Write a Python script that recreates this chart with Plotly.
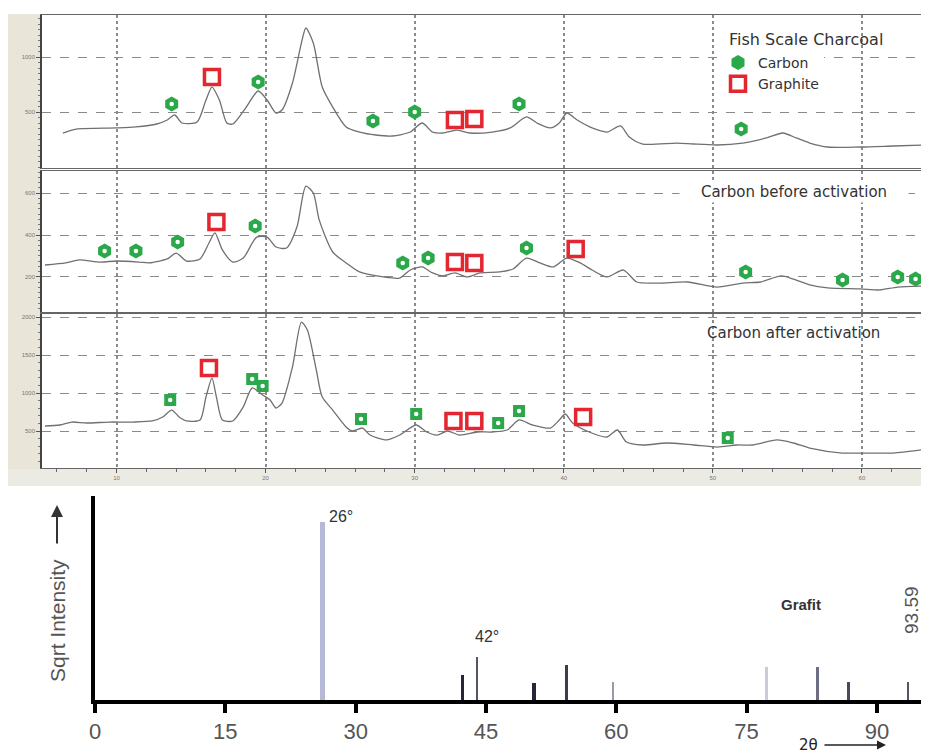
import plotly.graph_objects as go

# ---------------- data: XRD patterns (2θ in degrees, intensity in counts) ----------------
fish_x = [6.4, 7.3, 10.0, 11.3, 12.7, 13.4, 13.9, 14.4, 15.4, 16.0, 16.4, 16.9, 17.4, 17.8, 18.7,
          19.5, 20.1, 20.7, 21.1, 21.8, 22.4, 22.7, 23.2, 23.8, 24.5, 25.4, 26.3, 27.4, 28.5, 29.7,
          30.5, 31.2, 31.9, 32.8, 33.7, 35.2, 36.4, 37.5, 38.2, 39.1, 39.7, 40.2, 40.9, 41.9, 42.9,
          43.8, 44.4, 45.3, 47.6, 48.7, 50.3, 52.0, 53.6, 54.7, 55.6, 56.5, 57.7, 59.9, 62.1, 64.2]
fish_y = [309, 345, 355, 364, 391, 427, 473, 400, 409, 609, 727, 609, 400, 391, 545,
          691, 609, 491, 518, 764, 1127, 1264, 1127, 727, 545, 364, 318, 291, 282, 318,
          400, 318, 309, 336, 309, 318, 355, 455, 400, 355, 400, 491, 427, 355, 318,
          373, 273, 209, 218, 209, 200, 218, 264, 309, 264, 218, 182, 182, 191, 200]

before_x = [5.2, 6.6, 7.5, 8.9, 10.0, 11.5, 12.2, 13.4, 14.0, 14.7, 15.6, 16.2, 16.6, 17.1, 17.8,
            18.5, 19.4, 20.1, 20.7, 21.4, 22.1, 22.7, 23.2, 23.6, 24.5, 25.4, 26.3, 27.9, 29.0, 29.7,
            30.5, 31.2, 31.9, 32.7, 33.5, 34.4, 35.7, 36.6, 37.5, 38.4, 39.3, 40.2, 41.1, 41.9, 42.9,
            44.0, 44.9, 46.4, 48.3, 50.3, 52.0, 53.2, 54.6, 55.4, 56.5, 57.7, 59.9, 61.2, 62.4, 64.4]
before_y = [257, 267, 281, 271, 276, 271, 267, 286, 314, 276, 286, 362, 410, 329, 271,
            290, 390, 390, 343, 338, 438, 633, 600, 471, 319, 267, 224, 200, 195, 233,
            248, 219, 205, 219, 200, 219, 224, 238, 290, 267, 248, 290, 267, 233, 200,
            233, 176, 171, 176, 152, 171, 176, 205, 190, 162, 148, 143, 138, 152, 157]

after_x = [5.2, 6.2, 7.0, 8.0, 9.5, 11.1, 12.4, 13.1, 13.7, 14.2, 14.7, 15.6, 16.0, 16.4, 16.7,
           17.1, 17.8, 18.5, 19.1, 19.8, 20.3, 20.7, 21.1, 21.8, 22.4, 22.8, 23.4, 23.8, 24.5, 25.4,
           25.8, 26.5, 27.0, 28.1, 29.0, 30.1, 30.8, 31.5, 32.2, 33.0, 34.2, 35.2, 36.2, 37.0, 37.9,
           39.1, 39.7, 40.1, 40.6, 41.7, 42.9, 43.6, 44.2, 45.3, 46.9, 48.7, 50.3, 51.6, 52.7, 54.3,
           55.4, 56.5, 58.7, 60.3, 62.1, 64.4]
after_y = [566, 579, 618, 605, 618, 618, 632, 684, 776, 684, 632, 645, 947, 1197, 947,
           645, 632, 816, 1066, 974, 908, 803, 868, 1342, 1934, 1829, 1303, 947, 776, 553,
           500, 539, 447, 382, 447, 579, 487, 447, 500, 447, 487, 487, 513, 645, 579,
           539, 645, 724, 605, 487, 421, 513, 355, 316, 342, 316, 289, 316, 316, 382,
           342, 276, 210, 210, 210, 263]

# phase identification markers
fish_carbon_x = [13.7, 19.5, 27.2, 30.0, 37.0, 51.9]
fish_carbon_y = [573, 773, 418, 500, 573, 345]
fish_graph_x = [16.4, 32.7, 34.0]
fish_graph_y = [818, 427, 436]

before_carbon_x = [9.2, 11.3, 14.1, 19.3, 29.2, 30.9, 37.5, 52.2, 58.7, 62.4, 63.6]
before_carbon_y = [324, 324, 367, 443, 267, 290, 338, 224, 186, 200, 190]
before_graph_x = [16.7, 32.7, 34.0, 40.8]
before_graph_y = [462, 271, 267, 333]

after_carbon_x = [13.6, 19.1, 19.8, 26.4, 30.1, 35.6, 37.0, 51.0]
after_carbon_y = [908, 1184, 1092, 658, 724, 605, 763, 408]
after_graph_x = [16.2, 32.6, 34.0, 41.3]
after_graph_y = [1329, 632, 632, 684]

# reference stick pattern (Grafit), sqrt intensity
ref_pos = [26.2, 42.3, 44.0, 50.5, 54.3, 59.6, 77.3, 83.2, 86.7, 93.6]
ref_int = [99.5, 14.0, 24.2, 9.6, 19.7, 10.1, 18.5, 18.5, 10.1, 10.1]
ref_colors = ['#b6b9d6', '#26263a', '#55556a', '#26263a', '#3c3c50', '#9a9aaa',
              '#c9cddb', '#6e6e82', '#4a4a5c', '#55556a']
ref_widths = [0.55, 0.4, 0.2, 0.45, 0.22, 0.25, 0.3, 0.22, 0.3, 0.22]

top_ticks = [10, 20, 30, 40, 50, 60]
bottom_ticks = [0, 15, 30, 45, 60, 75, 90]

# ---------------- figure ----------------
# the page body adds an 8 px margin, so the figure is 921x746 and layout positions
# (given in window pixels) are shifted by that offset
OFF = 8
W, H = 929 - OFF, 754 - OFF
def px(x):
    return (x - OFF) / W
def py(y):
    return 1 - (y - OFF) / H

GREEN = '#2aa84a'
RED = '#e3262f'
CURVE = '#707070'
TXT = 'DejaVu Sans'

fig = go.Figure()

panels = [
    ('x', 'y', fish_x, fish_y, fish_carbon_x, fish_carbon_y, fish_graph_x, fish_graph_y, 'hexagon', True),
    ('x2', 'y2', before_x, before_y, before_carbon_x, before_carbon_y, before_graph_x, before_graph_y, 'hexagon', False),
    ('x3', 'y3', after_x, after_y, after_carbon_x, after_carbon_y, after_graph_x, after_graph_y, 'square', False),
]
for xa, ya, cx, cy, gx, gy, cxs, cys, csym, leg in panels:
    fig.add_trace(go.Scatter(x=cx, y=cy, xaxis=xa, yaxis=ya, mode='lines',
                             line=dict(color=CURVE, width=1.3, shape='spline', smoothing=0.7),
                             showlegend=False, hoverinfo='skip'))
    fig.add_trace(go.Scatter(x=gx, y=gy, xaxis=xa, yaxis=ya, mode='markers', name='Carbon',
                             marker=dict(symbol=csym, size=15 if csym == 'hexagon' else 12,
                                         color=GREEN, line=dict(width=0)),
                             showlegend=leg))
    fig.add_trace(go.Scatter(x=gx, y=gy, xaxis=xa, yaxis=ya, mode='markers',
                             marker=dict(symbol='circle', size=4.5, color='white'),
                             showlegend=False, hoverinfo='skip'))
    fig.add_trace(go.Scatter(x=cxs, y=cys, xaxis=xa, yaxis=ya, mode='markers', name='Graphite',
                             marker=dict(symbol='square', size=15, color='white',
                                         line=dict(color=RED, width=3.5)),
                             showlegend=leg))

fig.add_trace(go.Bar(x=ref_pos, y=ref_int, xaxis='x4', yaxis='y4', width=ref_widths,
                     marker=dict(color=ref_colors, line=dict(width=0)),
                     showlegend=False))

top_dom_x = [px(42), 1.0]
common_x = dict(range=[5, 64.5], tickvals=top_ticks, showgrid=True, gridcolor='#8a8a8a',
                griddash='dot', gridwidth=1.5, showline=True, linecolor='#666', linewidth=1.2,
                mirror=True, zeroline=False, ticks='', fixedrange=True, automargin=False)
common_y = dict(showgrid=True, gridcolor='#8a8a8a', griddash='dash', gridwidth=1.2,
                showline=True, linecolor='#444', linewidth=1.5, mirror=True, zeroline=False,
                ticks='outside', ticklen=4, tickcolor='#555', automargin=False,
                tickfont=dict(size=6, color='#777', family='Liberation Sans'),
                minor=dict(ticks='outside', ticklen=2, tickcolor='#777', showgrid=False))


def note(text, x, y, size, color='#333', family=TXT, angle=0, xanchor='center', **kw):
    return dict(text=text, x=px(x), y=py(y), xref='paper', yref='paper', showarrow=False,
                xanchor=xanchor, yanchor='middle', textangle=angle,
                font=dict(size=size, color=color, family=family), **kw)


fig.update_layout(
    width=W, height=H, margin=dict(l=0, r=0, t=0, b=0, autoexpand=False),
    paper_bgcolor='white', plot_bgcolor='white', bargap=0,
    xaxis=dict(common_x, domain=top_dom_x, anchor='y', showticklabels=False),
    yaxis=dict(common_y, domain=[py(168), py(15)], anchor='x', range=[-9, 1382],
               tickvals=[500, 1000], ticktext=['500', '1000'], minor_dtick=50),
    xaxis2=dict(common_x, domain=top_dom_x, anchor='y2', showticklabels=False),
    yaxis2=dict(common_y, domain=[py(312), py(171)], anchor='x2', range=[33, 705],
                tickvals=[200, 400, 600], minor_dtick=25),
    xaxis3=dict(common_x, domain=top_dom_x, anchor='y3', showticklabels=True,
                ticks='outside', ticklen=4, tickcolor='#555',
                tickfont=dict(size=6, color='#777', family='Liberation Sans'),
                minor=dict(ticks='outside', ticklen=3, dtick=2, tickcolor='#666', showgrid=False)),
    yaxis3=dict(common_y, domain=[py(468), py(314)], anchor='x3', range=[13, 2040],
                tickvals=[500, 1000, 1500, 2000], minor_dtick=100),
    xaxis4=dict(domain=[px(95), 1.0], anchor='y4', range=[0, 96], tickvals=bottom_ticks,
                showgrid=False, zeroline=False, showline=True, linecolor='black', linewidth=3.5,
                ticks='outside', ticklen=9, tickwidth=4, tickcolor='black', automargin=False,
                tickfont=dict(size=22, color='#555', family='Liberation Sans'), fixedrange=True),
    yaxis4=dict(domain=[py(700), py(496)], anchor='x4', range=[0, 114], showgrid=False,
                zeroline=False, showline=True, linecolor='black', linewidth=3.5, automargin=False,
                showticklabels=False, ticks='', fixedrange=True),
    legend=dict(x=px(718), y=py(47), xanchor='left', yanchor='top', bgcolor='white',
                font=dict(size=14, color='#333', family=TXT), tracegroupgap=0,
                itemwidth=30),
    shapes=[
        dict(type='rect', xref='paper', yref='paper', x0=px(8), x1=px(41), y0=py(486), y1=py(14),
             fillcolor='#e9e6d9', line=dict(width=0), layer='below'),
        dict(type='rect', xref='paper', yref='paper', x0=px(8), x1=1.0, y0=py(486), y1=py(469),
             fillcolor='#ecebe3', line=dict(width=0), layer='below'),
    ],
    annotations=[
        note('Fish Scale Charcoal', 727, 39, 16, xanchor='left'),
        note('Carbon before activation', 794, 192, 15, bgcolor='white', width=226),
        note('Carbon after activation', 793, 333, 15),
        note('26°', 327, 516, 16, family='Liberation Sans', xanchor='left'),
        note('42°', 487, 636, 16, family='Liberation Sans'),
        note('<b>Grafit</b>', 801, 604, 15, family='Liberation Sans'),
        note('93.59', 911, 610, 19, color='#555', family='Liberation Sans', angle=-90),
        note('Sqrt Intensity', 57, 621, 21, color='#555', family='Liberation Sans', angle=-90),
        # arrow above the y title
        dict(text='', x=px(57), y=py(505), ax=0, ay=40, xref='paper', yref='paper',
             axref='pixel', ayref='pixel', showarrow=True, arrowhead=2, arrowsize=1.2,
             arrowwidth=2, arrowcolor='#333', standoff=0, startstandoff=0),
        note('2θ', 808, 745, 15, color='#222'),
        dict(text='', x=px(886), y=py(745), ax=-63, ay=0, xref='paper', yref='paper',
             axref='pixel', ayref='pixel', showarrow=True, arrowhead=2, arrowsize=1.2,
             arrowwidth=1.5, arrowcolor='#222', standoff=0, startstandoff=0),
    ],
)

fig.write_html('out.html')
